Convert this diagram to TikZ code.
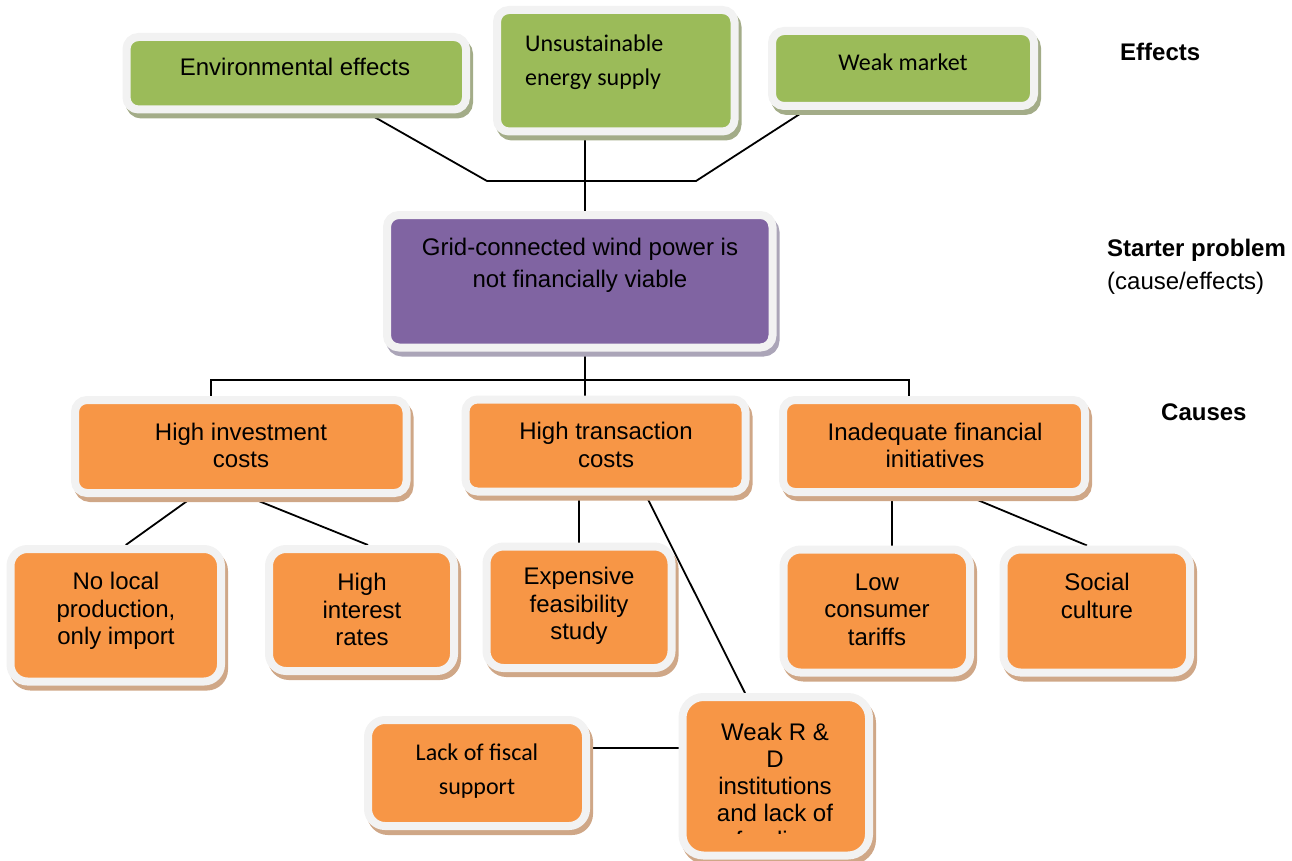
\documentclass[tikz,border=0pt]{standalone}
\usepackage{fontspec}
\setmainfont{Liberation Sans}
\newfontfamily\calfont{Carlito}
\usetikzlibrary{calc,backgrounds}

\definecolor{framegray}{HTML}{F2F2F2}
\definecolor{effgreen}{HTML}{9BBB59}
\definecolor{effshadow}{HTML}{A3AC88}
\definecolor{probpurple}{HTML}{8064A2}
\definecolor{probshadow}{HTML}{ABA5B8}
\definecolor{causeorange}{HTML}{F79646}
\definecolor{causeshadow}{HTML}{CFA787}

\tikzset{
  card/.style={rectangle, draw=framegray, line width=8, inner sep=0, rounded corners=12,
    preaction={draw=#1, fill=#1, line width=8, transform canvas={xshift=3pt,yshift=-5pt}}},
  effbox/.style={card=effshadow, fill=effgreen},
  probbox/.style={card=probshadow, fill=probpurple},
  causebox/.style={card=causeshadow, fill=causeorange},
  subbox/.style={causebox, rounded corners=17},
  lbl/.style={inner sep=0, align=center, font=\fontsize{24}{27.5}\selectfont},
  callbl/.style={inner sep=0, align=center, font=\calfont\fontsize{24}{34}\selectfont},
  side/.style={inner sep=0, anchor=west, font=\fontsize{24}{28}\selectfont},
  link/.style={draw=black, line width=1.8}
}

\begin{document}
\begin{tikzpicture}[x=1pt,y=-1pt]
\useasboundingbox (0,0) rectangle (1292,861);

% effects row
\node[effbox, minimum width=339.5, minimum height=72.5] (env) at (296.25,73.25) {};
\node[lbl] (envt) at (295,67) {Environmental effects};
\node[effbox, minimum width=237.5, minimum height=121.5] (uns) at (615.75,70.75) {};
\node[callbl, align=left, anchor=west] (unst) at (525,62) {Unsustainable\\energy supply};
\node[effbox, minimum width=262, minimum height=75] (mkt) at (903,68.5) {};
\node[callbl] (mktt) at (903,62) {Weak market};

% starter problem
\node[probbox, minimum width=385.5, minimum height=132.5] (prob) at (579.75,281.25) {};
\node[lbl, font=\fontsize{24}{32}\selectfont] (probt) at (580,265.5) {Grid-connected wind power is\\not financially viable};

% causes
\node[causebox, minimum width=331.5, minimum height=93] (inv) at (240.75,446.5) {};
\node[lbl] (invt) at (241,445.5) {High investment\\costs};
\node[causebox, minimum width=280, minimum height=92] (trans) at (605.5,445.5) {};
\node[lbl] (transt) at (606,445) {High transaction\\costs};
\node[causebox, minimum width=302, minimum height=92] (inad) at (934,446) {};
\node[lbl] (inadt) at (935,445.5) {Inadequate financial\\initiatives};

% sub-causes
\node[subbox, minimum width=210.5, minimum height=132.5] (nolocal) at (115.75,615.25) {};
\node[lbl] (nolocalt) at (116,611) {No local\\production,\\only import};
\node[subbox, minimum width=185, minimum height=122] (interest) at (361.5,610) {};
\node[lbl] (interestt) at (362,609.5) {High\\interest\\rates};
\node[subbox, minimum width=185, minimum height=121.5] (expensive) at (579,607.25) {};
\node[lbl] (expensivet) at (579,606) {Expensive\\feasibility\\study};
\node[subbox, minimum width=186.5, minimum height=123] (lowcons) at (876.75,611) {};
\node[lbl] (lowconst) at (877,609.5) {Low\\consumer\\tariffs};
\node[subbox, minimum width=186.5, minimum height=123] (social) at (1096.75,611) {};
\node[lbl] (socialt) at (1097,596) {Social\\culture};

% third level
\node[subbox, minimum width=218, minimum height=106] (fiscal) at (477,773) {};
\node[callbl] (fiscalt) at (477,771) {Lack of fiscal\\support};
\node[subbox, rounded corners=21, minimum width=186.5, minimum height=158.5] (weakrd) at (775.75,776.25) {};
\begin{scope}
  \clip (0,0) rectangle (1292,833);
  \node[lbl, font=\fontsize{24}{27}\selectfont] (weakrdt) at (775,788) {Weak R \&\\D\\institutions\\and lack of\\funding};
\end{scope}

% level labels
\node[side, font=\bfseries\fontsize{24}{28}\selectfont] (effl) at (1120,52) {Effects};
\node[side, font=\bfseries\fontsize{24}{28}\selectfont] (startl) at (1107,250) {Starter problem};
\node[side] (startsub) at (1107,283) {(cause/effects)};
\node[side, font=\bfseries\fontsize{24}{28}\selectfont] (causel) at (1161,412) {Causes};

% connectors
\coordinate (jl) at (487,181);
\coordinate (jr) at (696,181);
\coordinate (tx) at (585,181);
\coordinate (bl) at (211,380);
\coordinate (bm) at (585,380);
\coordinate (br) at (909,380);
\begin{scope}[on background layer]
  \draw[link] ($(env.south)+(72,0)$) -- (jl) -- (jr) -- ($(mkt.south)+(-97,0)$);
  \draw[link] (tx |- uns.south) -- (tx |- prob.north);
  \draw[link] (tx |- prob.south) -- (bm);
  \draw[link] (bl |- inv.north) -- (bl) -- (br) -- (br |- inad.north);
  \draw[link] (bm) -- (bm |- trans.north);
  \draw[link] ($(inv.south)+(-48,0)$) -- ($(nolocal.north)+(10,0)$);
  \draw[link] ($(inv.south)+(8,0)$) -- ($(interest.north)+(6.5,0)$);
  \draw[link] (expensive.north |- trans.south) -- (expensive.north);
  \draw[link] ($(trans.south)+(40.5,0)$) -- ($(weakrd.north)+(-30.75,0)$);
  \draw[link] ($(inad.south)+(-42,0)$) -- ($(lowcons.north)+(15.25,0)$);
  \draw[link] ($(inad.south)+(34,0)$) -- ($(social.north)+(-9.75,0)$);
  \draw[link] (fiscal.east) ++(0,-25) coordinate (fa) -- (fa -| weakrd.west);
\end{scope}
\end{tikzpicture}
\end{document}
